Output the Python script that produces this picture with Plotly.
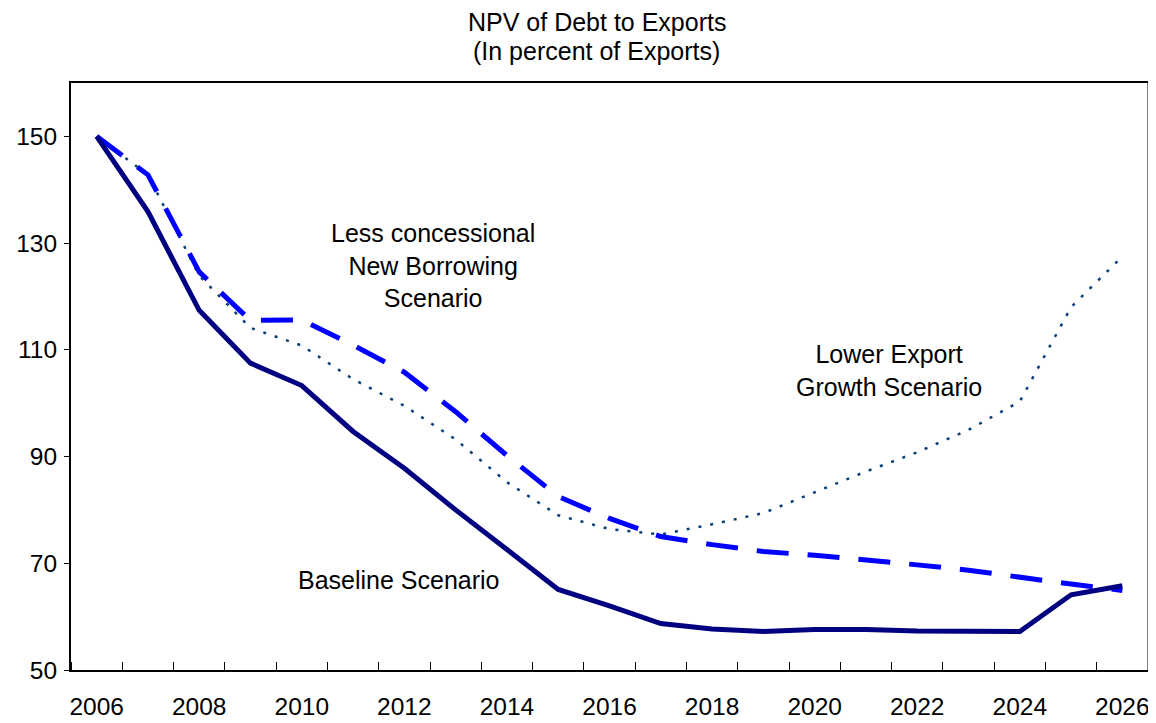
import plotly.graph_objects as go

anios = list(range(2006, 2027))

base = [150, 135.9, 117.4, 107.5, 103.3, 94.7, 87.8, 80.0, 72.6, 65.1, 62.0,
        58.7, 57.7, 57.2, 57.6, 57.6, 57.3, 57.2, 57.2, 64.1, 65.8]
menos_concesional = [150, 142.8, 124.6, 115.5, 115.6, 110.9, 105.8, 98.4, 90.2, 82.5, 78.4,
                     75.0, 73.5, 72.2, 71.5, 70.7, 69.7, 68.7, 67.3, 66.1, 64.9]
menor_export = [150, 142.8, 123.9, 114.1, 110.8, 104.5, 99.5, 93.2, 85.2, 79.0, 76.4,
                75.4, 77.3, 79.4, 83.3, 87.2, 90.8, 95.0, 100.3, 118.0, 127.5]

titulo = ["NPV of Debt to Exports", "(In percent of Exports)"]
fuente = "Arial, Liberation Sans, sans-serif"

fig = go.Figure()

fig.add_trace(go.Scatter(
    x=anios, y=menor_export, mode="lines",
    line=dict(color="#0B3F78", width=2.5, dash="3px,9px"),
))
fig.add_trace(go.Scatter(
    x=anios, y=menos_concesional, mode="lines",
    line=dict(color="#0000FF", width=5, dash="32px,19px"),
))
fig.add_trace(go.Scatter(
    x=anios, y=base, mode="lines",
    line=dict(color="#000080", width=5),
))

notas = [
    (2012.55, 125.8, "Less concessional<br>New Borrowing<br>Scenario"),
    (2021.45, 106.1, "Lower Export<br>Growth Scenario"),
    (2011.9, 66.9, "Baseline Scenario"),
]
for x, y, txt in notas:
    fig.add_annotation(x=x, y=y, text=txt, showarrow=False,
                       font=dict(size=25, color="black", family=fuente))

# titulo en dos anotaciones (interlineado mas apretado que el de plotly)
for yy, linea in zip([1.1039, 1.0545], titulo):
    fig.add_annotation(xref="paper", yref="paper", x=0.488, y=yy,
                       xanchor="center", yanchor="middle", text=linea, showarrow=False,
                       font=dict(size=25, color="black", family=fuente))

# borde derecho gris
fig.add_shape(type="line", xref="paper", yref="paper", x0=1, x1=1, y0=0, y1=1,
              line=dict(color="#808080", width=2))

# la pagina tiene 8px de margen en el body, por eso 1148x715
fig.update_layout(
    width=1148, height=715,
    font=dict(family=fuente, size=24, color="black"),
    plot_bgcolor="white", paper_bgcolor="white",
    showlegend=False,
    margin=dict(l=63, r=8, t=75, b=53),
)

fig.update_xaxes(
    range=[2005.5, 2026.5],
    tickvals=list(range(2006, 2027, 2)),
    ticks="", showgrid=False, zeroline=False,
    showline=True, linecolor="black", linewidth=2, mirror=True,
    ticklabelstandoff=14, automargin=False,
    tickfont=dict(size=24.5),
    minor=dict(tick0=2005.5, dtick=1, ticks="inside", ticklen=8,
               tickcolor="black", tickwidth=1, showgrid=False),
)
fig.update_yaxes(
    range=[50, 160],
    tickvals=list(range(50, 151, 20)),
    ticks="outside", ticklen=5, tickcolor="black",
    showgrid=False, zeroline=False,
    showline=True, linecolor="black", linewidth=2,
    ticklabelstandoff=2, automargin=False,
    tickfont=dict(size=24.5),
)

fig.write_html("out.html")
